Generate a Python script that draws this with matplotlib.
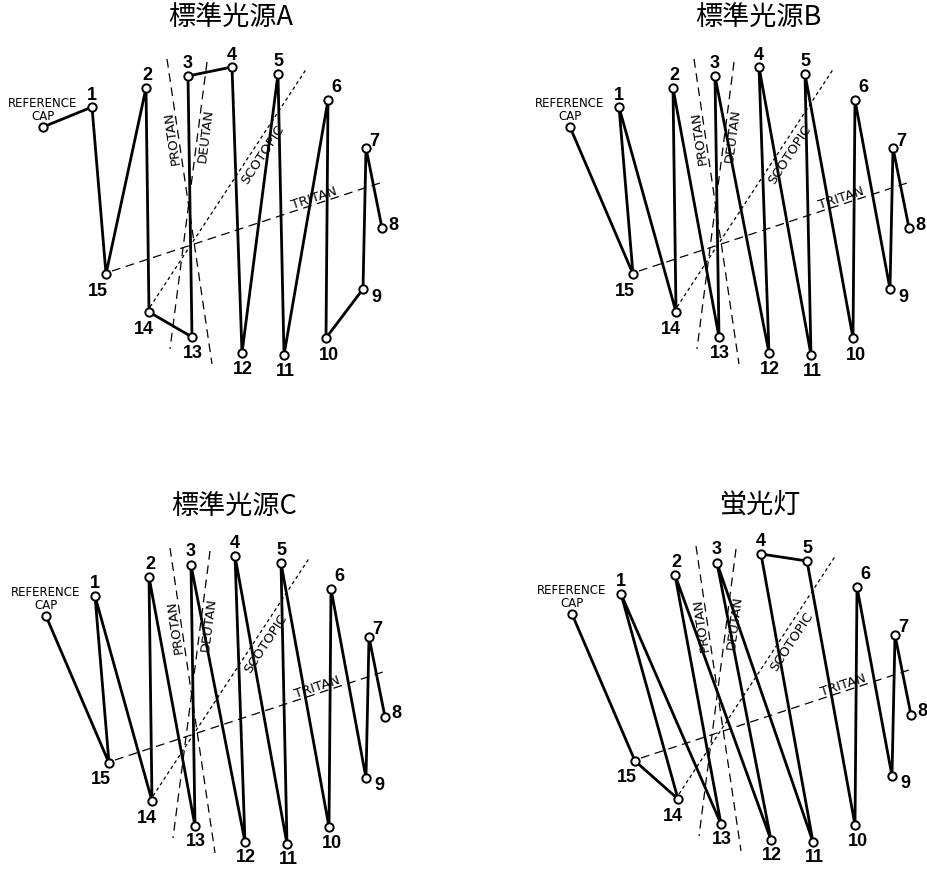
import matplotlib.pyplot as plt
import numpy as np

# D-15 cap layout (index 0 = reference cap), diagram units
cap_x = [-167, -118, -64, -22, 22, 68, 118, 156, 172, 153, 116, 74, 32, -18, -61, -104]
cap_y = [87, 107, 126, 138, 147, 140, 114, 66, -14, -75, -124, -141, -139, -123, -98, -60]

titles = ['標準光源A', '標準光源B', '標準光源C', '蛍光灯']

# arrangement order for each illuminant
orders = [
    [0, 1, 15, 2, 14, 13, 3, 4, 12, 5, 11, 6, 10, 9, 7, 8],
    [0, 15, 1, 14, 2, 13, 3, 12, 4, 11, 5, 10, 6, 9, 7, 8],
    [0, 15, 1, 14, 2, 13, 3, 12, 4, 11, 5, 10, 6, 9, 7, 8],
    [0, 15, 14, 1, 13, 2, 12, 3, 11, 4, 5, 10, 6, 9, 7, 8],
]

# confusion axes
axis_names = ['PROTAN', 'DEUTAN', 'TRITAN', 'SCOTOPIC']
axis_x0 = [-43, -3, -98, -60]
axis_y0 = [155, 152, -57, -93]
axis_x1 = [2, -40, 173, 97]
axis_y1 = [-150, -135, 32, 146]

# layout / style
panel_px = [(0, 0), (527, 0), (3, 489), (529, 487)]   # top-left of each panel in pixels
label_off = {1: (0, 13), 2: (1, 13), 3: (0, 14), 4: (0, 13), 5: (0, 13), 6: (8, 13),
             7: (8, 8), 8: (11, 4), 9: (13, -7), 10: (3, -16), 11: (1, -15),
             12: (1, -15), 13: (1, -15), 14: (-5, -17), 15: (-8, -16)}
axis_label_pos = [(-38, 77), (-4, 79), (104, 17), (53, 60)]
axis_dash = [(7, 4.5), (7, 4.5), (7, 4.5), (2.8, 2.4)]

W, H = 927, 870
fig = plt.figure(figsize=(W / 100, H / 100), dpi=100)
fig.patch.set_facecolor('white')

pw, ph = 400, 380
for k, (ox, oy) in enumerate(panel_px):
    ax = fig.add_axes([ox / W, 1 - (oy + ph) / H, pw / W, ph / H])
    ax.set_xlim(-210, -210 + pw)
    ax.set_ylim(215 - ph, 215)
    ax.axis('off')

    # confusion axis lines with their names
    for j, name in enumerate(axis_names):
        ax.plot([axis_x0[j], axis_x1[j]], [axis_y0[j], axis_y1[j]], color='black',
                lw=0.9, dashes=axis_dash[j], clip_on=False, zorder=1)
        if axis_y1[j] > axis_y0[j] or name == 'TRITAN':
            ang = np.degrees(np.arctan2(axis_y1[j] - axis_y0[j], axis_x1[j] - axis_x0[j]))
        else:
            ang = np.degrees(np.arctan2(axis_y0[j] - axis_y1[j], axis_x0[j] - axis_x1[j]))
        lx, ly = axis_label_pos[j]
        ax.text(lx, ly, name, rotation=ang, rotation_mode='anchor', ha='center', va='center',
                fontsize=9.5, family='DejaVu Sans', color='black', zorder=4)

    # arrangement path
    order = orders[k]
    ax.plot([cap_x[i] for i in order], [cap_y[i] for i in order], color='black',
            lw=2.0, solid_joinstyle='round', clip_on=False, zorder=2)
    ax.plot(cap_x, cap_y, 'o', ms=6, mfc='white', mec='black', mew=1.4,
            clip_on=False, zorder=3)

    for c in range(1, 16):
        dx, dy = label_off[c]
        ax.annotate(str(c), (cap_x[c], cap_y[c]), xytext=(dx, dy), textcoords='offset pixels',
                    ha='center', va='center', fontsize=13, family='Liberation Sans',
                    fontweight='bold')
    ax.annotate('REFERENCE\nCAP', (cap_x[0], cap_y[0]), xytext=(0, 18),
                textcoords='offset pixels', ha='center', va='center', fontsize=8.5,
                family='DejaVu Sans', linespacing=0.95)

    ax.text(21, 197, titles[k], ha='center', va='center', fontsize=19.5,
            family=['Noto Sans CJK JP', 'DejaVu Sans'])

fig.savefig('out.png', dpi=100, facecolor='white')
